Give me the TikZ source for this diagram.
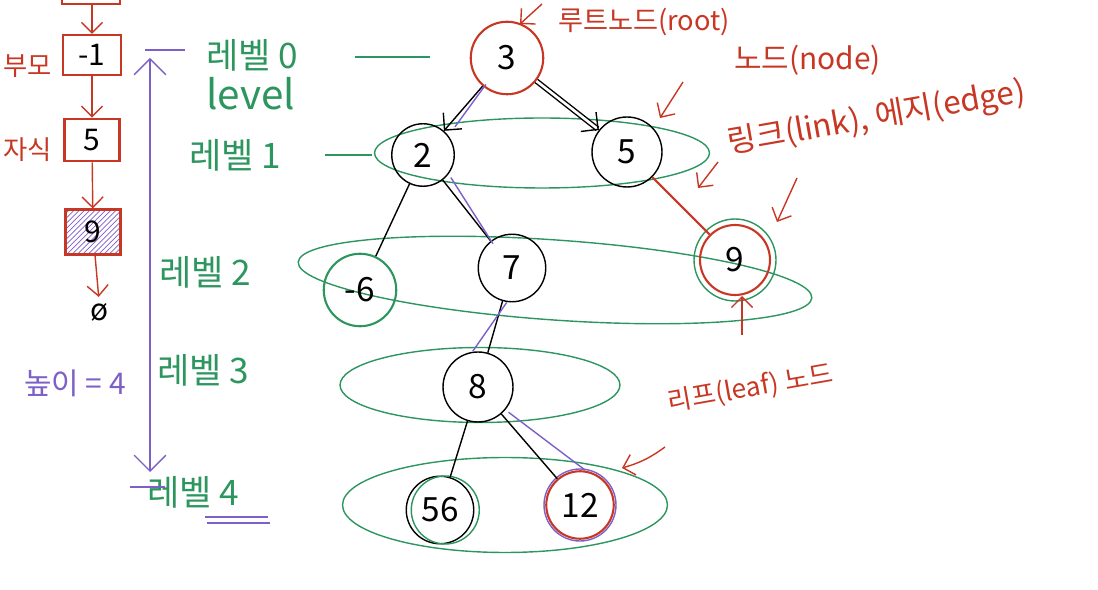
\documentclass[tikz,border=0pt]{standalone}
\usepackage{fontspec}
\setmainfont{Noto Sans CJK KR}
\usetikzlibrary{arrows.meta,shapes.geometric,patterns}
\definecolor{penred}{RGB}{200,55,35}
\definecolor{pengreen}{RGB}{45,150,95}
\definecolor{penpurple}{RGB}{125,95,200}

\begin{document}
\begin{tikzpicture}[x=0.02cm, y=-0.02cm,
  every node/.style={font=\fontsize{17}{19}\selectfont},
  treenode/.style={circle, draw=black, thick, minimum size=1.3cm, inner sep=0pt, font=\fontsize{19}{21}\selectfont},
  ring/.style={ellipse, draw=pengreen, thick, inner sep=0pt},
  lvl/.style={text=pengreen, anchor=west, font=\fontsize{20}{22}\selectfont},
  note/.style={text=penred, anchor=west},
  notearrow/.style={-{Straight Barb[length=6pt]}, penred, thick},
  link/.style={black, thick},
  cell/.style={draw=penred, very thick, minimum width=1.15cm, minimum height=0.8cm}]

  \useasboundingbox (0,0) rectangle (1098,590);
  \clip (0,0) rectangle (1098,590);

  % --- level rings ---
  \node[ring, minimum width=6.7cm, minimum height=1.4cm] (ring1) at (542,153) {};
  \node[ring, minimum width=10.3cm, minimum height=1.6cm, rotate=-4] (ring2) at (555,280) {};
  \node[ring, minimum width=5.6cm, minimum height=1.5cm] (ring3) at (480,385) {};
  \node[ring, minimum width=6.5cm, minimum height=1.9cm] (ring4) at (505,505) {};

  % --- tree nodes ---
  \node[treenode, draw=penred, very thick, minimum size=1.45cm] (n3) at (507,58) {3};
  \node[treenode, minimum size=1.25cm] (n2) at (423,155) {2};
  \node[treenode, minimum size=1.4cm] (n5) at (627,152) {5};
  \node[treenode, draw=pengreen, very thick, minimum size=1.45cm] (nm6) at (360,290) {-6};
  \node[treenode, minimum size=1.35cm] (n7) at (512,268) {7};
  \node[treenode, draw=penred, very thick, minimum size=1.4cm] (n9) at (735,260) {9};
  \node[treenode, minimum size=1.4cm] (n8) at (478,387) {8};
  \node[treenode, minimum size=1.35cm] (n56) at (440,510) {56};
  \node[treenode, draw=penred, very thick, minimum size=1.35cm] (n12) at (580,505) {12};
  \draw[pengreen, thick] (n9) circle [radius=0.82cm];
  \draw[pengreen, thick] ([xshift=3pt]n56) circle [radius=0.68cm];
  \draw[penpurple, thick] (n12) circle [radius=0.72cm];

  % --- links ---
  \draw[link, -{Straight Barb[length=7pt]}] (n3) -- (n2);
  \draw[penpurple, thick, shorten >=4pt] ([xshift=3pt]n3.south west) -- ([xshift=3pt]n2.north east);
  \draw[link, double distance=1.5pt, -{Straight Barb[length=7pt]}] (n3) -- (n5);
  \draw[link] (n2) -- (nm6);
  \draw[link] (n2) -- (n7);
  \draw[penpurple, thick] ([xshift=3pt]n2.south east) -- ([xshift=3pt]n7.north west);
  \draw[penred, very thick] (n5) -- (n9);
  \draw[link] (n7) -- (n8);
  \draw[penpurple, thick] ([xshift=-3pt]n7.south) -- ([xshift=-3pt]n8.north);
  \draw[link] (n8) -- (n56);
  \draw[link] (n8) -- (n12);
  \draw[penpurple, thick] ([xshift=3pt]n8.south east) -- ([xshift=3pt]n12.north);

  % --- level labels ---
  \draw[pengreen, thick] (355,57) -- (430,57);
  \draw[pengreen, thick] (325,155) -- (372,155);
  \node[lvl] (lv0) at (200,55) {레벨 0};
  \node[lvl, font=\fontsize{23}{25}\selectfont] (lvEn) at (200,94) {level};
  \node[lvl] (lv1) at (183,155) {레벨 1};
  \node[lvl] (lv2) at (153,272) {레벨 2};
  \node[lvl] (lv3) at (151,370) {레벨 3};
  \node[lvl] (lv4) at (141,492) {레벨 4};
  \draw[penpurple, thick] (205,517) -- (268,517) (207,523) -- (270,523);

  % --- height arrow ---
  \coordinate (hTop) at (150,58);
  \coordinate (hBot) at (150,472);
  \draw[penpurple, thick, {Straight Barb[length=9pt]}-{Straight Barb[length=9pt]}] (hTop) -- (hBot);
  \draw[penpurple, thick] (145,50) -- (185,50);
  \draw[penpurple, thick] (130,487) -- (165,487);
  \node[text=penpurple] (height) at (75,383) {높이 = 4};

  % --- linked list on the left ---
  \draw[penred, very thick] (62,-20) rectangle (120,4);
  \coordinate (cellTop) at (92,4);
  \node[cell] (cell1) at (92,55) {-1};
  \node[cell, minimum width=1.1cm, minimum height=0.85cm] (cell2) at (92,140) {5};
  \node[cell, minimum width=1.1cm, minimum height=0.9cm, pattern=north east lines, pattern color=penpurple] (cell3) at (93,232) {9};
  \node (nul) at (100,312) {ø};
  \draw[notearrow] (cellTop) -- (cell1);
  \draw[notearrow] (cell1) -- (cell2);
  \draw[notearrow] (cell2) -- (cell3);
  \draw[notearrow] (cell3) -- (nul);
  \node[text=penred, anchor=west, inner sep=1pt, font=\fontsize{15}{17}\selectfont] (parent) at (1,66) {부모};
  \node[text=penred, anchor=west, inner sep=1pt, font=\fontsize{15}{17}\selectfont] (child) at (1,150) {자식};

  % --- notes ---
  \node[note, font=\fontsize{15.5}{17}\selectfont] (rootNote) at (552,22) {루트노드(root)};
  \node[note] (nodeNote) at (728,60) {노드(node)};
  \node[note, rotate=10, font=\fontsize{18}{20}\selectfont] (linkNote) at (722,146) {링크(link), 에지(edge)};
  \node[note, rotate=10, font=\fontsize{15}{17}\selectfont] (leafNote) at (662,404) {리프(leaf) 노드};
  \coordinate (rootTip) at (520,24);
  \coordinate (nodeTip) at (660,118);
  \coordinate (linkTip) at (698,188);
  \coordinate (edgeTip) at (777,222);
  \coordinate (leafTip) at (622,468);
  \coordinate (nineTip) at (742,296);
  \draw[notearrow] (542,4) -- (rootTip);
  \draw[notearrow] (683,82) -- (nodeTip);
  \draw[notearrow] (718,162) -- (linkTip);
  \draw[notearrow] (797,178) -- (edgeTip);
  \draw[notearrow] (665,447) to[bend left=10] (leafTip);
  \draw[notearrow] (742,335) -- (nineTip);

\end{tikzpicture}
\end{document}
